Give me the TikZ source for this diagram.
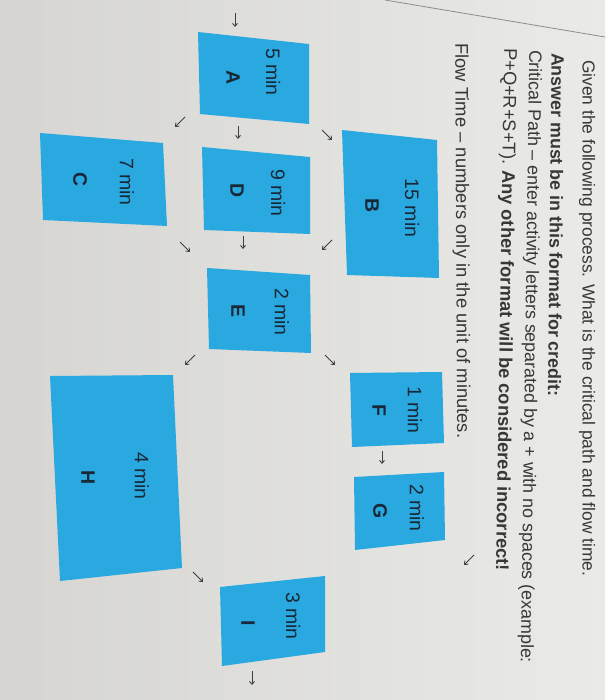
\documentclass[tikz,border=0pt]{standalone}
\usepackage{fontspec}
\setmainfont{Liberation Sans}
\usetikzlibrary{arrows.meta}
\definecolor{boxblue}{RGB}{42,168,224}
\definecolor{boxtext}{RGB}{25,40,55}
\definecolor{hdr}{RGB}{55,55,55}
\definecolor{bgl}{RGB}{214,213,209}
\definecolor{bgr}{RGB}{234,234,230}
\begin{document}
\begin{tikzpicture}[x=1pt,y=-1pt,
  box/.style={fill=boxblue},
  lbl/.style={rotate=-90,text=boxtext,font=\fontsize{19.5}{22}\selectfont,inner sep=0pt},
  let/.style={rotate=-90,text=boxtext,font=\fontsize{19.5}{22}\selectfont\bfseries,inner sep=0pt},
  hd/.style={anchor=west,text=hdr,inner sep=0pt},
  arr/.style={draw=black!75,line width=0.9pt,-{Straight Barb[length=3pt,width=5pt]}}]
\useasboundingbox (0,0) rectangle (605,700);
\shade[left color=bgl,right color=bgr] (0,0) rectangle (605,700);
\draw[black!45,line width=0.8pt] (385,0) -- (605,37);

% header text
\node[hd,rotate=-90,font=\fontsize{17.4}{20}\selectfont] (h1) at (587,60) {Given the following process. What is the critical path and flow time.};
\node[hd,rotate=-90.6,font=\fontsize{17.8}{20}\selectfont\bfseries] (h2) at (558,53) {Answer must be in this format for credit:};
\node[hd,rotate=-90.8,font=\fontsize{17.8}{20}\selectfont] (h3) at (534,50) {Critical Path – enter activity letters separated by a + with no spaces (example:};
\node[hd,rotate=-90.9,font=\fontsize{18.3}{20}\selectfont] (h4) at (509,48) {P+Q+R+S+T). \textbf{Any other format will be considered incorrect!}};
\node[hd,rotate=-89.7,font=\fontsize{18.4}{20}\selectfont] (h5) at (460,43) {Flow Time – numbers only in the unit of minutes.};

% boxes
\fill[box] (198,32) -- (309,44) -- (309,124) -- (200,114) -- cycle;
\node[lbl] (At) at (273,72) {5 min};
\node[let] (Al) at (233,78) {A};

\fill[box] (342,130) -- (437,140) -- (439,278) -- (347,275) -- cycle;
\node[lbl] (Bt) at (412,208) {15 min};
\node[let] (Bl) at (372,206) {B};

\fill[box] (40,133) -- (163,143) -- (167,226) -- (43,220) -- cycle;
\node[lbl] (Ct) at (127,182) {7 min};
\node[let] (Cl) at (80,180) {C};

\fill[box] (202,147) -- (310,157) -- (310,234) -- (204,230) -- cycle;
\node[lbl] (Dt) at (278,193) {9 min};
\node[let] (Dl) at (237,191) {D};

\fill[box] (207,268) -- (310,275) -- (311,353) -- (209,349) -- cycle;
\node[lbl] (Et) at (282,312) {2 min};
\node[let] (El) at (238,311) {E};

\fill[box] (350,373) -- (442,372) -- (444,443) -- (352,447) -- cycle;
\node[lbl] (Ft) at (415,410) {1 min};
\node[let] (Fl) at (379,410) {F};

\fill[box] (354,477) -- (444,472) -- (445,540) -- (355,550) -- cycle;
\node[lbl] (Gt) at (417,508) {2 min};
\node[let] (Gl) at (380,511) {G};

\fill[box] (50,376) -- (173,375) -- (182,568) -- (60,581) -- cycle;
\node[lbl] (Ht) at (142,476) {4 min};
\node[let] (Hl) at (88,478) {H};

\fill[box] (220,587) -- (325,576) -- (325,652) -- (222,666) -- cycle;
\node[lbl] (It) at (293,616) {3 min};
\node[let] (Il) at (248,623) {I};

% small arrows
\draw[arr] (235,13) -- (235,27);
\draw[arr] (185,117) -- (175,127);
\draw[arr] (238,126) -- (238,139);
\draw[arr] (322,130) -- (332,140);
\draw[arr] (332,240) -- (322,250);
\draw[arr] (243,236) -- (243,249);
\draw[arr] (180,242) -- (190,252);
\draw[arr] (195,355) -- (185,365);
\draw[arr] (325,355) -- (335,365);
\draw[arr] (382,451) -- (382,464);
\draw[arr] (193,572) -- (203,582);
\draw[arr] (474,555) -- (464,565);
\draw[arr] (252,671) -- (252,685);
\end{tikzpicture}
\end{document}
